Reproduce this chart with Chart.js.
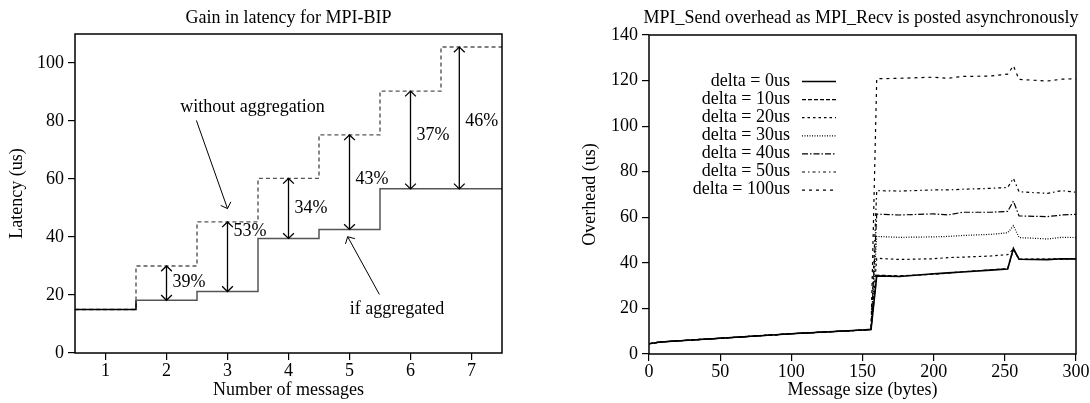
<!DOCTYPE html>
<html>
<head>
<meta charset="utf-8">
<title>MPI-BIP latency and MPI_Send overhead</title>
<script src="https://cdn.jsdelivr.net/npm/chart.js@4.4.1/dist/chart.umd.min.js"></script>
<style>
  html, body { margin: 0; padding: 0; background: #fff; overflow: hidden; }
  #wrap { position: relative; width: 1090px; height: 403px; }
  canvas { position: absolute; top: 0; }
  #gainChart { left: 0; }
  #overheadChart { left: 545px; }
</style>
</head>
<body>
<div id="wrap">
  <canvas id="gainChart" width="545" height="403"></canvas>
  <canvas id="overheadChart" width="545" height="403"></canvas>
</div>
<script>
// ---- Gain in latency for MPI-BIP ----
const messageCounts = [1, 2, 3, 4, 5, 6, 7];
const latencyAggregated = [15, 18.2, 21.2, 39.5, 42.6, 56.6, 56.6];
const latencyWithout = [15, 30, 45.2, 60.2, 75.2, 90.3, 105.5];
const gainArrowCount = [2, 3, 4, 5, 6, 7];       // message count each double arrow refers to
const gainArrowAt = [2, 3, 4, 5, 6, 6.8];        // where that arrow stands on the x axis
const latencyTicksX = [1, 2, 3, 4, 5, 6, 7];
const latencyTicksY = [0, 20, 40, 60, 80, 100];

// ---- MPI_Send overhead as MPI_Recv is posted asynchronously ----
const messageSizes = [0, 8, 50, 100, 150, 156, 160, 176, 200, 210, 220, 240, 252, 256, 260, 280, 290, 300];
const deltaLabels = ['delta = 0us', 'delta = 10us', 'delta = 20us', 'delta = 30us', 'delta = 40us', 'delta = 50us', 'delta = 100us'];
const overheadDelta0   = [4.5, 5.3, 6.9, 8.9, 10.5, 10.8, 34.3, 34.0, 35.2, 35.6, 36.0, 36.8, 37.3, 46.3, 41.6, 41.4, 41.8, 41.7];
const overheadDelta10  = [4.5, 5.3, 6.9, 8.9, 10.5, 10.8, 34.6, 34.3, 35.0, 35.5, 36.1, 36.9, 37.5, 45.8, 41.5, 41.5, 41.6, 41.8];
const overheadDelta20  = [4.5, 5.3, 6.9, 8.9, 10.5, 10.8, 42.0, 41.5, 41.8, 42.3, 42.5, 43.0, 43.6, 46.0, 41.6, 41.6, 41.9, 41.8];
const overheadDelta30  = [4.5, 5.3, 6.9, 8.9, 10.5, 10.8, 51.6, 51.2, 51.4, 51.6, 52.0, 52.5, 53.2, 56.3, 51.1, 50.5, 51.2, 51.1];
const overheadDelta40  = [4.5, 5.3, 6.9, 8.9, 10.5, 10.8, 61.4, 61.0, 61.5, 61.0, 62.2, 62.2, 62.6, 67.1, 60.6, 60.3, 61.0, 61.3];
const overheadDelta50  = [4.5, 5.3, 6.9, 8.9, 10.5, 10.8, 71.7, 71.5, 72.0, 72.0, 72.3, 72.7, 73.1, 77.1, 71.2, 70.5, 71.7, 71.0];
const overheadDelta100 = [4.5, 5.3, 6.9, 8.9, 10.5, 10.8, 120.8, 121.0, 121.5, 121.0, 121.8, 122.0, 122.8, 126.5, 120.5, 119.8, 120.6, 120.8];
const overheadTicksX = [0, 50, 100, 150, 200, 250, 300];
const overheadTicksY = [0, 20, 40, 60, 80, 100, 120, 140];

const SERIF = '"Liberation Serif", "Times New Roman", Times, serif';
Chart.defaults.font.family = SERIF;
Chart.defaults.font.size = 18;
Chart.defaults.color = '#000';

// one step per message count: the level holds from n-0.5 to n+0.5
function binSteps(xs, ys) {
  const pts = xs.map((x, i) => ({ x: x - 0.5, y: ys[i] }));
  pts.push({ x: xs[xs.length - 1] + 0.5, y: ys[ys.length - 1] });
  return pts;
}

function pairs(xs, ys) {
  return xs.map((x, i) => ({ x: x, y: ys[i] }));
}

function fixedTicks(values) {
  return scale => { scale.ticks = values.map(v => ({ value: v })); };
}

function axisX(min, max, ticks, title, height) {
  return {
    type: 'linear', min: min, max: max,
    afterBuildTicks: fixedTicks(ticks),
    afterFit: s => { s.height = height; },
    grid: { drawOnChartArea: false, drawTicks: true, tickLength: 7, color: '#000', lineWidth: 1.2 },
    border: { display: false },
    ticks: { color: '#000', padding: 0, maxRotation: 0, autoSkip: false, font: { size: 18 } },
    title: { display: true, text: title, color: '#000', font: { size: 18 }, padding: { top: 0, bottom: 2 } }
  };
}

function axisY(min, max, ticks, title, width, titleGap) {
  return {
    type: 'linear', min: min, max: max,
    afterBuildTicks: fixedTicks(ticks),
    afterFit: s => { s.width = width; },
    grid: { drawOnChartArea: false, drawTicks: true, tickLength: 7, color: '#000', lineWidth: 1.2 },
    border: { display: false },
    ticks: { color: '#000', padding: 4, font: { size: 18 } },
    title: { display: true, text: title, color: '#000', font: { size: 18 }, padding: { top: titleGap, bottom: 0 } }
  };
}

// box round the plotting area
const plotFrame = {
  id: 'plotFrame',
  afterDraw(chart) {
    const { ctx, chartArea: a } = chart;
    ctx.save();
    ctx.strokeStyle = '#000';
    ctx.lineWidth = 1.5;
    ctx.strokeRect(a.left, a.top, a.right - a.left, a.bottom - a.top);
    ctx.restore();
  }
};

// heading centred over the plotting area
const plotHeading = {
  id: 'plotHeading',
  afterDraw(chart, args, opts) {
    const { ctx, chartArea: a } = chart;
    ctx.save();
    ctx.font = '18px ' + SERIF;
    ctx.fillStyle = '#000';
    ctx.textAlign = 'center';
    ctx.textBaseline = 'middle';
    ctx.fillText(opts.text, (a.left + a.right) / 2 + (opts.dx || 0), opts.y);
    ctx.restore();
  }
};

function arrowHead(ctx, tipX, tipY, angle, len, spread) {
  ctx.beginPath();
  ctx.moveTo(tipX - len * Math.cos(angle - spread), tipY - len * Math.sin(angle - spread));
  ctx.lineTo(tipX, tipY);
  ctx.lineTo(tipX - len * Math.cos(angle + spread), tipY - len * Math.sin(angle + spread));
  ctx.stroke();
}

function arrow(ctx, x0, y0, x1, y1, both) {
  ctx.beginPath();
  ctx.moveTo(x0, y0);
  ctx.lineTo(x1, y1);
  ctx.stroke();
  const ang = Math.atan2(y1 - y0, x1 - x0);
  arrowHead(ctx, x1, y1, ang, 7.5, 0.8);
  if (both) arrowHead(ctx, x0, y0, ang + Math.PI, 7.5, 0.8);
}

// double arrows with the relative gain, plus the two callouts
const gainMarks = {
  id: 'gainMarks',
  afterDatasetsDraw(chart, args, opts) {
    const { ctx } = chart;
    const xs = chart.scales.x, ys = chart.scales.y;
    ctx.save();
    ctx.strokeStyle = '#000';
    ctx.fillStyle = '#000';
    ctx.lineWidth = 1.3;
    ctx.font = '18px ' + SERIF;
    ctx.textAlign = 'left';
    ctx.textBaseline = 'middle';
    gainArrowCount.forEach((n, i) => {
      const k = messageCounts.indexOf(n);
      const lo = latencyAggregated[k], hi = latencyWithout[k];
      const px = xs.getPixelForValue(gainArrowAt[i]);
      arrow(ctx, px, ys.getPixelForValue(lo), px, ys.getPixelForValue(hi), true);
      const gain = Math.round((hi - lo) / hi * 100) + '%';
      ctx.fillText(gain, px + 6, ys.getPixelForValue(opts.labelY[i]));
    });
    ctx.lineWidth = 1;
    ctx.textAlign = 'center';
    opts.callouts.forEach(c => {
      ctx.fillText(c.text, xs.getPixelForValue(c.at[0]), ys.getPixelForValue(c.at[1]));
      arrow(ctx, xs.getPixelForValue(c.from[0]), ys.getPixelForValue(c.from[1]),
                 xs.getPixelForValue(c.to[0]), ys.getPixelForValue(c.to[1]), false);
    });
    ctx.restore();
  }
};

// key: label right-aligned, line sample to its right
const deltaKey = {
  id: 'deltaKey',
  afterDatasetsDraw(chart, args, o) {
    const { ctx, chartArea: a } = chart;
    ctx.save();
    ctx.font = '18px ' + SERIF;
    ctx.fillStyle = '#000';
    ctx.textAlign = 'right';
    ctx.textBaseline = 'middle';
    chart.data.datasets.forEach((ds, i) => {
      const y = a.top + o.top + i * o.rowGap;
      ctx.fillText(ds.label, a.left + o.textRight, y);
      ctx.beginPath();
      ctx.setLineDash(ds.borderDash || []);
      ctx.lineWidth = ds.borderWidth;
      ctx.strokeStyle = ds.borderColor;
      ctx.moveTo(a.left + o.lineStart, y + 0.5);
      ctx.lineTo(a.left + o.lineEnd, y + 0.5);
      ctx.stroke();
    });
    ctx.restore();
  }
};

new Chart(document.getElementById('gainChart'), {
  type: 'line',
  data: {
    datasets: [
      {
        label: 'if aggregated',
        data: binSteps(messageCounts, latencyAggregated),
        stepped: true,
        borderColor: '#555',
        segment: { borderColor: c => (c.p0DataIndex === 0 ? '#000' : '#555') },
        borderWidth: 1.5,
        pointRadius: 0,
        fill: false
      },
      {
        label: 'without aggregation',
        data: binSteps(messageCounts, latencyWithout),
        stepped: true,
        borderColor: '#555',
        borderDash: [4, 3],
        borderWidth: 1.4,
        pointRadius: 0,
        fill: false
      }
    ]
  },
  options: {
    responsive: false,
    animation: false,
    devicePixelRatio: 1,
    layout: { padding: { top: 34, right: 43, left: 0, bottom: 0 } },
    scales: {
      x: axisX(0.5, 7.5, latencyTicksX, 'Number of messages', 50),
      y: axisY(0, 110, latencyTicksY, 'Latency (us)', 75, 6)
    },
    plugins: {
      legend: { display: false },
      tooltip: { enabled: false },
      plotHeading: { text: 'Gain in latency for MPI-BIP', y: 18 },
      gainMarks: {
        labelY: [24.4, 41.9, 49.8, 59.8, 75, 79.8],
        callouts: [
          { text: 'without aggregation', at: [3.41, 84.8], from: [2.49, 80.2], to: [3.0, 49.8] },
          { text: 'if aggregated', at: [5.78, 15], from: [5.49, 20.2], to: [4.97, 40.1] }
        ]
      }
    }
  },
  plugins: [plotFrame, plotHeading, gainMarks]
});

const overheadSeries = [overheadDelta0, overheadDelta10, overheadDelta20, overheadDelta30,
                        overheadDelta40, overheadDelta50, overheadDelta100];
const deltaDashes = [[], [4, 2], [2.5, 3], [1, 1.5], [6, 2, 1.5, 2], [3, 3, 1.5, 3], [3, 4]];

new Chart(document.getElementById('overheadChart'), {
  type: 'line',
  data: {
    datasets: overheadSeries.map((vals, i) => ({
      label: deltaLabels[i],
      data: pairs(messageSizes, vals),
      borderColor: '#000',
      borderWidth: i === 0 ? 1.6 : 1.2,
      borderDash: deltaDashes[i],
      pointRadius: 0,
      tension: 0,
      fill: false
    }))
  },
  options: {
    responsive: false,
    animation: false,
    devicePixelRatio: 1,
    layout: { padding: { top: 35, right: 14, left: 0, bottom: 0 } },
    scales: {
      x: axisX(0, 300, overheadTicksX, 'Message size (bytes)', 49),
      y: axisY(0, 140, overheadTicksY, 'Overhead (us)', 104, 34)
    },
    plugins: {
      legend: { display: false },
      tooltip: { enabled: false },
      plotHeading: { text: 'MPI_Send overhead as MPI_Recv is posted asynchronously', y: 18, dx: -1.5 },
      deltaKey: { top: 46, rowGap: 18.1, textRight: 141, lineStart: 153, lineEnd: 187 }
    }
  },
  plugins: [plotFrame, plotHeading, deltaKey]
});
</script>
</body>
</html>
